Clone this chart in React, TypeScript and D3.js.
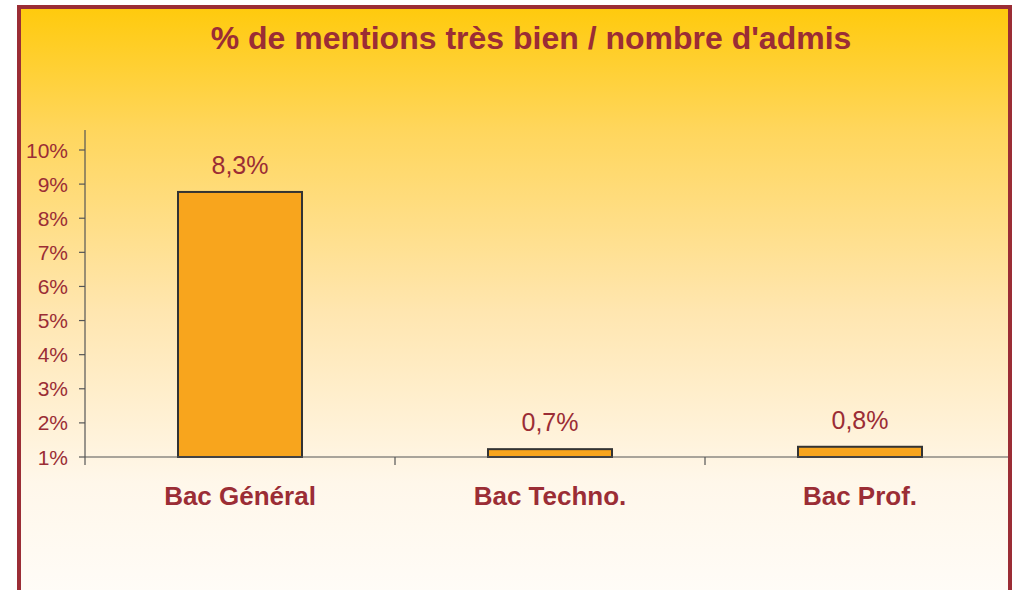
import React from "react";
import * as d3 from "d3";

const categories = ["Bac Général", "Bac Techno.", "Bac Prof."];
const barValues = [8.77, 1.23, 1.3];
const valueLabels = ["8,3%", "0,7%", "0,8%"];
const yTicks = [1, 2, 3, 4, 5, 6, 7, 8, 9, 10];
const title = "% de mentions très bien / nombre d'admis";

const W = 1015;
const H = 590;
const RED = "#9b2d35";

export default function App() {
  const left = 85;
  const right = 1015;
  const top = 150;
  const bottom = 457;
  const x = d3.scaleBand<string>().domain(categories).range([left, right]).paddingInner(0).paddingOuter(0);
  const y = d3.scaleLinear().domain([1, 10]).range([bottom, top]);
  const barW = x.bandwidth() * 0.4;
  const font = "'Liberation Sans', Arial, sans-serif";

  return (
    <svg width={W} height={H} style={{ position: "absolute", left: 0, top: 0 }} fontFamily={font}>
      <defs>
        <linearGradient id="bg" x1="0" y1="0" x2="0" y2="1" gradientUnits="objectBoundingBox">
          <stop offset="0" stopColor="#ffca0c" />
          <stop offset="0.2" stopColor="#ffd65c" />
          <stop offset="0.5" stopColor="#ffe6b0" />
          <stop offset="0.78" stopColor="#fff7ea" />
          <stop offset="1" stopColor="#fffdfa" />
        </linearGradient>
      </defs>
      <rect x={0} y={0} width={W} height={H} fill="#ffffff" />
      <rect x={19} y={7} width={991} height={H + 20} fill="url(#bg)" stroke={RED} strokeWidth={4} />
      <text x={531} y={49} textAnchor="middle" fontSize={32} fontWeight="bold" fill={RED}>
        {title}
      </text>
      {/* y axis */}
      <line x1={left} x2={left} y1={130} y2={bottom} stroke="#555" strokeWidth={1.2} />
      {yTicks.map((t) => (
        <g key={t}>
          <line x1={left - 6} x2={left} y1={y(t)} y2={y(t)} stroke="#555" strokeWidth={1.2} />
          <text x={68} y={y(t) + 7.5} textAnchor="end" fontSize={21} fill={RED}>
            {t}%
          </text>
        </g>
      ))}
      {/* bars */}
      {categories.map((c, i) => {
        const cx = (x(c) as number) + x.bandwidth() / 2;
        const yt = y(barValues[i]);
        return (
          <g key={c}>
            <rect x={cx - barW / 2} y={yt} width={barW} height={bottom - yt} fill="#f8a51d" stroke="#333" strokeWidth={2} />
            <text x={cx} y={yt - 18} textAnchor="middle" fontSize={25} fill={RED}>
              {valueLabels[i]}
            </text>
            <text x={cx} y={505} textAnchor="middle" fontSize={26} fontWeight="bold" fill={RED}>
              {c}
            </text>
          </g>
        );
      })}
      {/* x axis */}
      <line x1={left} x2={1008} y1={bottom} y2={bottom} stroke="#555" strokeWidth={1.2} />
      {categories.map((c) => (
        <line key={c} x1={x(c) as number} x2={x(c) as number} y1={bottom} y2={bottom + 8} stroke="#555" strokeWidth={1.2} />
      ))}
    </svg>
  );
}
